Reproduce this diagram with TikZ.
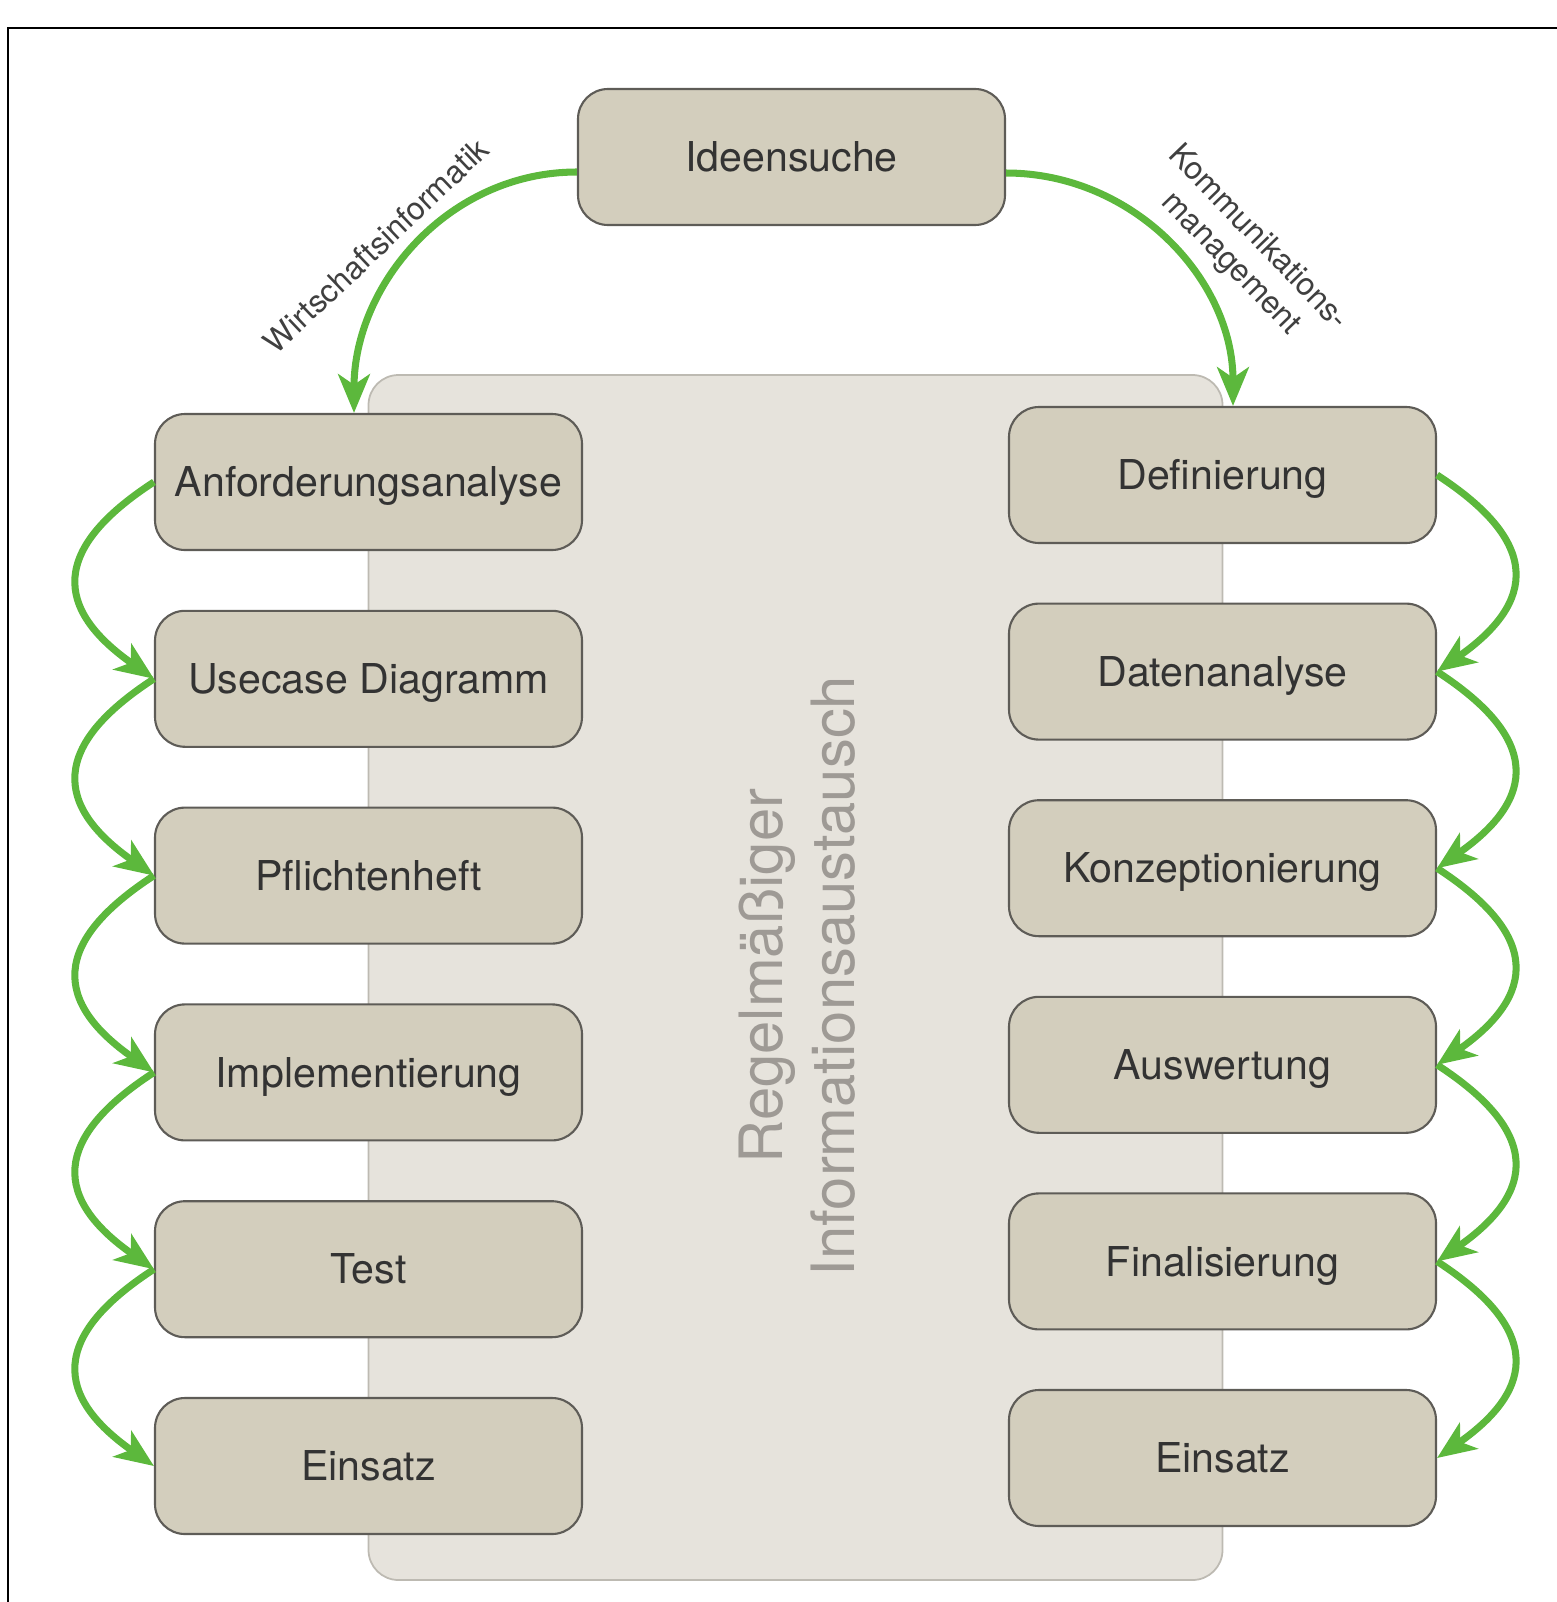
\documentclass[tikz,border=0pt]{standalone}
\usepackage{fontspec}
\setmainfont{TeX Gyre Heros}
\usepackage{tikz}
\usetikzlibrary{arrows.meta}
\usepackage{xcolor}
\definecolor{boxfill}{HTML}{D3CEBD}
\definecolor{boxline}{HTML}{5E5C57}
\definecolor{panelfill}{HTML}{E6E3DC}
\definecolor{panelline}{HTML}{BDBAB2}
\definecolor{paneltext}{HTML}{9E9A95}
\definecolor{arrowgreen}{HTML}{5CB83C}
\tikzset{mybox/.style={draw=boxline, line width=0.6pt, fill=boxfill, rounded corners=0.3cm, minimum width=4.27cm, minimum height=1.36cm, inner sep=0pt, text=black!80, font=\fontsize{11.7}{14}\selectfont, text height=8.4pt, text depth=0pt}}
\tikzset{mypanel/.style={draw=panelline, line width=0.5pt, fill=panelfill, rounded corners=0.3cm, minimum width=8.54cm, minimum height=12.05cm}}
\tikzset{myarrow/.style={draw=arrowgreen, line width=2pt, -{Stealth[length=11pt, width=9pt, inset=3pt]}}}
\tikzset{mylabel/.style={inner sep=0pt, align=center, text=black!75, font=\fontsize{9}{10.6}\selectfont}}

\begin{document}
\begin{tikzpicture}
\useasboundingbox (0,0) rectangle (15.57,-16.02);
\draw[line width=0.6pt] (0.08,-16.02) -- (0.08,-0.28) -- (15.57,-0.28);

% shared area in the middle
\node[mypanel] (bg) at (7.955,-9.775) { };
\node[inner sep=0pt, align=center, rotate=90, text=paneltext, font=\fontsize{17}{20.3}\selectfont] (bgText) at (7.97,-9.76) {Regelmäßiger\\Informationsaustausch};

\node[mybox] (idea) at (7.915,-1.57) {Ideensuche};

\node[mybox] (a1) at (3.685,-4.82) {Anforderungsanalyse};
\node[mybox] (a2) at (3.685,-6.788) {Usecase Diagramm};
\node[mybox] (a3) at (3.685,-8.756) {Pflichtenheft};
\node[mybox] (a4) at (3.685,-10.724) {Implementierung};
\node[mybox] (a5) at (3.685,-12.692) {Test};
\node[mybox] (a6) at (3.685,-14.66) {Einsatz};

\node[mybox] (b1) at (12.225,-4.75) {Definierung};
\node[mybox] (b2) at (12.225,-6.716) {Datenanalyse};
\node[mybox] (b3) at (12.225,-8.682) {Konzeptionierung};
\node[mybox] (b4) at (12.225,-10.648) {Auswertung};
\node[mybox] (b5) at (12.225,-12.614) {Finalisierung};
\node[mybox] (b6) at (12.225,-14.58) {Einsatz};

\draw[myarrow] ([yshift=-1.5mm]idea.west) to[out=180, in=90] ([xshift=-1.45mm]a1.north);
\draw[myarrow] ([yshift=-1.6mm]idea.east) to[out=0, in=90] ([xshift=1.05mm]b1.north);

\node[mylabel, rotate=43.5] (wi) at (3.76,-2.455) {Wirtschaftsinformatik};
\node[mylabel, rotate=-46] (km) at (12.44,-2.51) {Kommunikations-\\management};

\draw[myarrow] (a1.west) to[out=213, in=145, looseness=1.6] (a2.west);
\draw[myarrow] (a2.west) to[out=213, in=145, looseness=1.6] (a3.west);
\draw[myarrow] (a3.west) to[out=213, in=145, looseness=1.6] (a4.west);
\draw[myarrow] (a4.west) to[out=213, in=145, looseness=1.6] (a5.west);
\draw[myarrow] (a5.west) to[out=213, in=145, looseness=1.6] (a6.west);

\draw[myarrow] (b1.east) to[out=-33, in=35, looseness=1.6] (b2.east);
\draw[myarrow] (b2.east) to[out=-33, in=35, looseness=1.6] (b3.east);
\draw[myarrow] (b3.east) to[out=-33, in=35, looseness=1.6] (b4.east);
\draw[myarrow] (b4.east) to[out=-33, in=35, looseness=1.6] (b5.east);
\draw[myarrow] (b5.east) to[out=-33, in=35, looseness=1.6] (b6.east);

\end{tikzpicture}
\end{document}
